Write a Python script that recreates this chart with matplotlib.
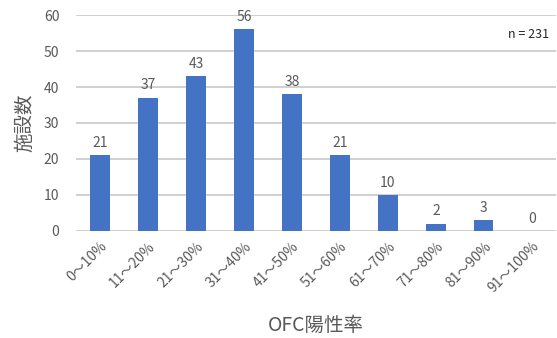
import matplotlib.pyplot as plt
import numpy as np

plt.rcParams['font.family'] = ['Noto Sans CJK JP', 'DejaVu Sans']

categories = ['0～10%', '11～20%', '21～30%', '31～40%', '41～50%',
              '51～60%', '61～70%', '71～80%', '81～90%', '91～100%']
counts = [21, 37, 43, 56, 38, 21, 10, 2, 3, 0]
yticks = [0, 10, 20, 30, 40, 50, 60]

text_grey = '#595959'
bar_blue = '#4472C4'

fig = plt.figure(figsize=(5.57, 3.38), dpi=100)
ax = fig.add_axes([0.1364, 0.3166, 0.8616, 0.639])

x = np.arange(len(categories))
bars = ax.bar(x, counts, width=0.4, color=bar_blue, zorder=3)

for xi, v in zip(x, counts):
    ax.text(xi, v + 1.5, str(v), ha='center', va='bottom',
            fontsize=10, color=text_grey)

ax.set_xlim(-0.5, len(categories) - 0.5)
ax.set_ylim(0, 60)
ax.set_yticks(yticks)
ax.yaxis.grid(True, color='#c8c8c8', linewidth=1.2, zorder=0)
ax.set_axisbelow(True)
for s in ax.spines.values():
    s.set_visible(False)
ax.tick_params(axis='both', length=0, colors=text_grey, labelsize=10)
ax.tick_params(axis='y', pad=12)
ax.tick_params(axis='x', pad=6)

ax.set_xticks(x)
ax.set_xticklabels(categories, rotation=45, ha='right', rotation_mode='anchor')

ax.set_ylabel('施設数', fontsize=14, color=text_grey, labelpad=6)
ax.set_xlabel('OFC陽性率', fontsize=14, color=text_grey, labelpad=14)

ax.text(0.985, 0.91, 'n = 231', transform=ax.transAxes, ha='right',
        va='center', fontsize=9, color='#262626')

fig.savefig('out.png', dpi=100)
